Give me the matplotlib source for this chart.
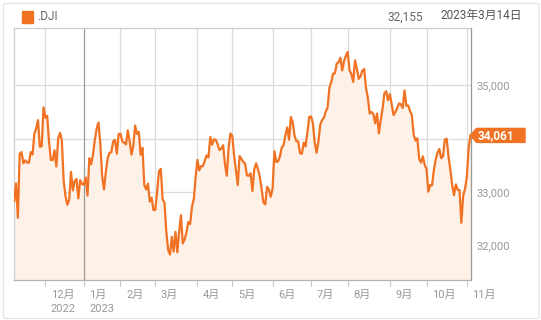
import matplotlib
matplotlib.use("Agg")
import matplotlib.pyplot as plt
from matplotlib.patches import Polygon, FancyBboxPatch, Rectangle
import numpy as np

plt.rcParams['font.family'] = ['Roboto', 'Noto Sans CJK JP', 'DejaVu Sans']

# DJI daily closes, 2022-11-07 .. 2023-11-03 (one value per trading day)
closes = [
    32827, 33160, 32513, 33715, 33747, 33537, 33593, 33553, 33546, 33746,
    33700, 34098, 34194, 34347, 33849, 33853, 34590,
    # Dec 2022
    34395, 34430, 33947, 33597, 33598, 33781, 33476, 34005, 34108, 33966,
    33202, 32920, 32757, 32850, 33377, 33027, 33204, 33241, 32876, 33221, 33147,
    # Jan 2023
    33136, 33270, 32930, 33631, 33518, 33704, 33974, 34190, 34303, 33910,
    33297, 33045, 33375, 33630, 33734, 33744, 33949, 33978, 33717, 34086,
    # Feb
    34093, 33949, 33926, 33891, 34156, 33949, 33699, 33869, 34246, 34089,
    34128, 33697, 33827, 33130, 33045, 33154, 32817, 32889, 32657,
    # Mar
    32662, 33004, 33391, 33432, 32856, 32798, 32254, 31910, 31819, 32155,
    31875, 32247, 31862, 32245, 32561, 32030, 32105, 32238, 32433, 32394,
    32718, 32860, 33274,
    # Apr
    33601, 33403, 33483, 33486, 33587, 33685, 33647, 34030, 33887, 33988,
    33977, 33897, 33787, 33809, 33876, 33531, 33302, 33827, 34098,
    # May
    34051, 33684, 33414, 33128, 33675, 33619, 33562, 33531, 33309, 33301,
    33349, 33012, 33421, 33535, 33427, 33287, 33056, 32800, 32765, 33093,
    33043, 32908,
    # Jun
    33062, 33763, 33563, 33573, 33666, 33834, 33877, 34067, 34212, 33979,
    34408, 34299, 34054, 33952, 33946, 33727, 33715, 33927, 33853, 34122, 34408,
    # Jul
    34418, 34288, 33922, 33735, 33945, 34262, 34347, 34395, 34509, 34585,
    34952, 35061, 35225, 35228, 35412, 35438, 35520, 35282, 35459, 35560,
    # Aug
    35631, 35283, 35216, 35066, 35473, 35315, 35124, 35176, 35281, 35308,
    34946, 34766, 34474, 34501, 34464, 34289, 34473, 34100, 34347, 34560,
    34853, 34891, 34722,
    # Sep
    34838, 34642, 34444, 34501, 34577, 34664, 34646, 34576, 34908, 34618,
    34625, 34518, 34441, 34070, 33964, 34007, 33619, 33551, 33667, 33508,
    # Oct
    33433, 33003, 33130, 33120, 33408, 33605, 33740, 33805, 33632, 33670,
    33985, 33998, 33665, 33415, 33127, 32937, 33141, 33036, 33035, 32418,
    32929, 33053,
    # Nov
    33275, 33839, 34061,
]

month_idx = [17, 38, 58, 77, 100, 119, 141, 162, 182, 205, 225, 247]
month_labels = ['12月', '1月', '2月', '3月', '4月', '5月', '6月', '7月',
                '8月', '9月', '10月', '11月']
year_labels = {17: '2022', 38: '2023'}
y_ticks = [32000, 33000, 34000, 35000]

hover_value = '32,155'
hover_date = '2023年3月14日'
ticker = '.DJI'

line_color = '#f07222'
fill_color = '#fdf1e8'
grid_color = '#dcdcdc'
text_color = '#999999'

W, H = 541, 320
fig = plt.figure(figsize=(W / 100, H / 100), dpi=100)
ax = fig.add_axes([14.2 / W, (H - 280) / H, (470.5 - 14.2) / W, (280 - 28) / H])

x = np.arange(len(closes))
ax.fill_between(x, closes, 31000, color=fill_color, lw=0, zorder=1)
ax.plot(x, closes, color=line_color, lw=1.6, zorder=3, solid_joinstyle='round')

ax.set_xlim(0, len(closes) - 1)
ax.set_ylim(31342, 36081)

for i in month_idx:
    if year_labels.get(i) == '2023':
        ax.axvline(i, color='#9a9a9a', lw=0.9, zorder=2)
    else:
        ax.axvline(i, color=grid_color, lw=0.9, zorder=0.5)
for v in y_ticks:
    ax.axhline(v, color=grid_color, lw=0.9, zorder=0.5)

ax.set_xticks(month_idx)
ax.set_xticklabels([])
ax.tick_params(axis='x', length=4, color='#c8c8c8', width=0.8)
ax.set_yticks(y_ticks)
ax.yaxis.tick_right()
# the 34,000 label sits under the last-value marker, so leave it blank
ax.set_yticklabels(['' if abs(v - closes[-1]) < 300 else f'{v:,}' for v in y_ticks])
ax.tick_params(axis='y', length=0, pad=4, labelsize=8, labelcolor=text_color)

for s in ['top', 'left']:
    ax.spines[s].set_color('#cfcfcf')
    ax.spines[s].set_linewidth(0.9)
ax.spines['bottom'].set_color('#b5b5b5')
ax.spines['right'].set_color('#9a9a9a')
ax.spines['bottom'].set_linewidth(0.9)
ax.spines['right'].set_linewidth(0.9)

trans = ax.get_xaxis_transform()
for i, lab in zip(month_idx, month_labels):
    ax.text(i + 3, -0.04, lab, transform=trans, ha='left', va='top',
            fontsize=8, color=text_color)
    if i in year_labels:
        ax.text(i + 3, -0.095, year_labels[i], transform=trans, ha='left',
                va='top', fontsize=8, color=text_color)

# header
fig.patches.append(Rectangle((21.5 / W, 1 - 22.5 / H), 11 / W, 11 / H,
                             transform=fig.transFigure, color=line_color))
fig.text(37 / W, 1 - 17 / H, ticker, ha='left', va='center', fontsize=8.5,
         color='#666666')
fig.text(423 / W, 1 - 17 / H, hover_value, ha='right', va='center',
         fontsize=8.5, color='#666666')
fig.text(522 / W, 1 - 15.5 / H, hover_date, ha='right', va='center',
         fontsize=8.5, color='#555555')

# outer frame
fig.patches.append(FancyBboxPatch((3.5 / W, 1.5 / H), 535.5 / W, 315 / H,
                                  boxstyle='round,pad=0,rounding_size=0.004',
                                  transform=fig.transFigure, fill=False,
                                  ec='#e4e4e4', lw=0.9))

# last value marker
fig.canvas.draw()
px, py = ax.transData.transform((len(closes) - 1, closes[-1]))
tip = 470.5
poly = [(tip, py), (tip + 6, py + 7), (525, py + 7), (525, py - 7), (tip + 6, py - 7)]
fig.patches.append(Polygon([(a / W, b / H) for a, b in poly], closed=True,
                           transform=fig.transFigure, color=line_color, zorder=5))
fig.text((tip + 7.5) / W, py / H, f'{closes[-1]:,}', ha='left', va='center',
         fontsize=8.5, color='white', fontweight='bold', zorder=6)

fig.savefig('out.png', dpi=100)
